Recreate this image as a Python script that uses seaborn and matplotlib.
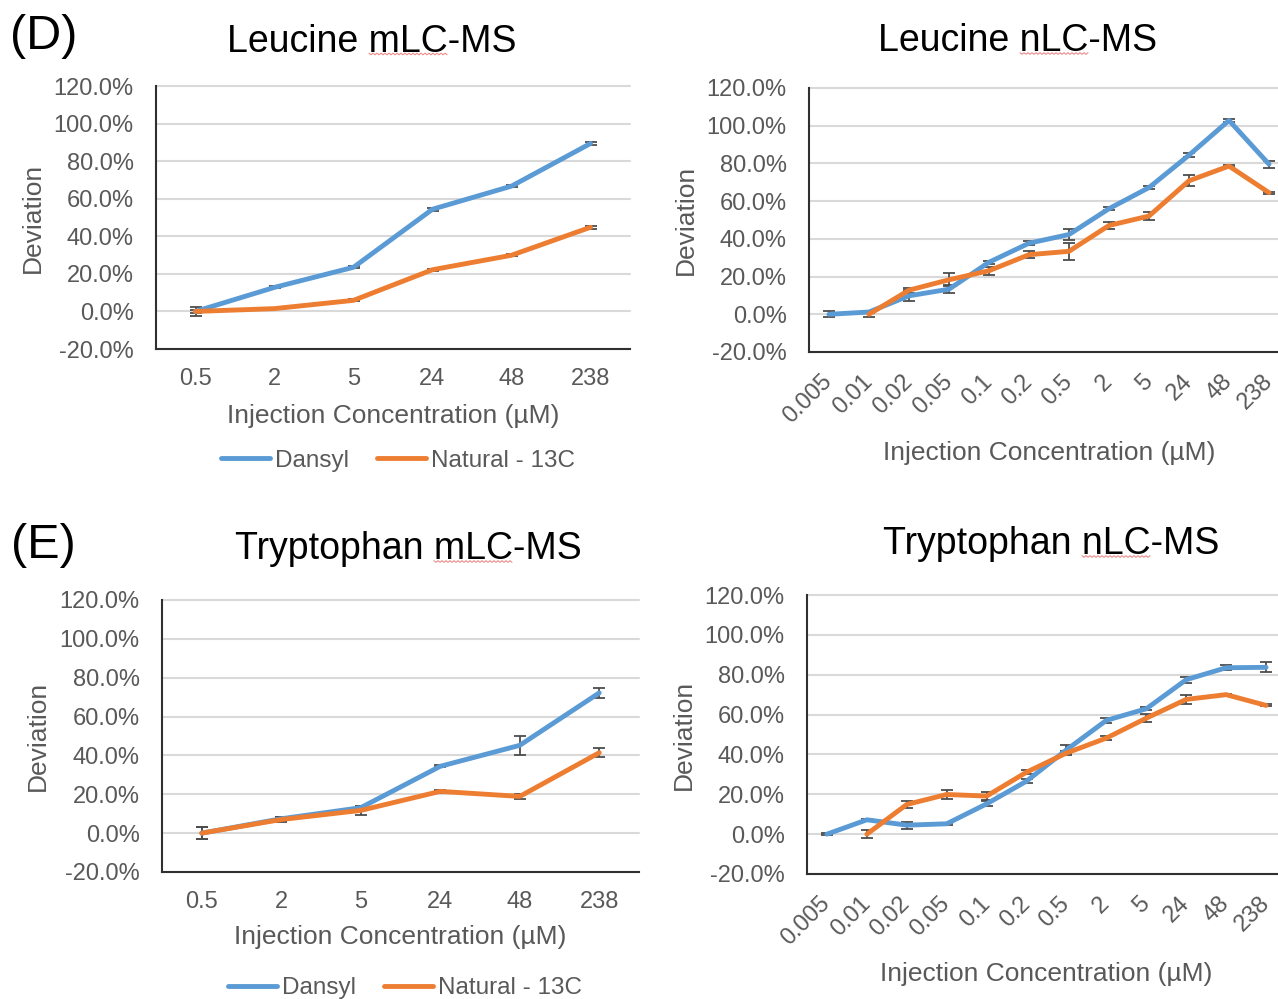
import numpy as np
import pandas as pd
import matplotlib
matplotlib.use("Agg")
import matplotlib.pyplot as plt
from matplotlib.lines import Line2D
import seaborn as sns

# ---------------------------------------------------------------- data
mlc_conc = ["0.5", "2", "5", "24", "48", "238"]
nlc_conc = ["0.005", "0.01", "0.02", "0.05", "0.1", "0.2",
            "0.5", "2", "5", "24", "48", "238"]
series_names = ["Dansyl", "Natural - 13C"]
y_ticks = [-20, 0, 20, 40, 60, 80, 100, 120]

nan = np.nan

leu_mlc_dansyl = [0.0, 12.8, 23.5, 54.4, 66.7, 89.4]
leu_mlc_dansyl_err = [2.4, 0.5, 0.6, 0.8, 0.6, 0.8]
leu_mlc_natural = [0.0, 1.5, 5.9, 22.2, 29.9, 44.8]
leu_mlc_natural_err = [0.8, 0.3, 0.5, 0.5, 0.5, 0.8]

leu_nlc_dansyl = [0.0, 1.2, 9.8, 13.3, 27.6, 37.7, 42.3, 56.0, 67.2, 84.4, 102.8, 79.6]
leu_nlc_dansyl_err = [1.6, 0.5, 3.0, 2.1, 0.8, 1.2, 3.0, 0.8, 0.8, 1.0, 1.0, 1.8]
leu_nlc_natural = [nan, 0.0, 12.8, 18.3, 23.1, 31.6, 33.4, 47.1, 52.1, 70.8, 78.6, 64.5]
leu_nlc_natural_err = [nan, 1.6, 1.4, 3.4, 2.1, 1.8, 4.4, 2.0, 2.3, 2.8, 0.5, 0.5]

trp_mlc_dansyl = [0.0, 7.4, 13.1, 34.4, 45.2, 72.2]
trp_mlc_dansyl_err = [3.2, 1.0, 1.0, 0.6, 4.8, 2.6]
trp_mlc_natural = [0.0, 7.0, 11.7, 21.5, 18.9, 41.4]
trp_mlc_natural_err = [3.2, 1.4, 2.2, 0.6, 1.2, 2.3]

trp_nlc_dansyl = [0.0, 7.2, 4.5, 5.2, 15.2, 26.6, 42.3, 57.1, 62.9, 77.5, 83.5, 83.7]
trp_nlc_dansyl_err = [0.5, 0.5, 1.7, 0.5, 1.3, 1.0, 2.2, 1.3, 0.8, 1.5, 1.3, 2.5]
trp_nlc_natural = [nan, 0.0, 14.9, 19.9, 19.1, 31.1, 40.7, 48.2, 58.2, 67.6, 70.0, 64.6]
trp_nlc_natural_err = [nan, 2.0, 1.7, 2.2, 2.0, 1.0, 1.0, 0.8, 2.0, 2.3, 0.5, 0.5]

# ---------------------------------------------------------------- style
sns.set_theme(style="white")
plt.rcParams["font.family"] = ["Liberation Sans", "DejaVu Sans"]

BLUE = "#5B9BD5"
ORANGE = "#ED7D31"
GREY_TEXT = "#595959"
GRID = "#D9D9D9"
SPINE = "#303030"
LW = 3.5

W, H = 1278, 999
fig = plt.figure(figsize=(W / 100, H / 100), dpi=100)
fig.patch.set_facecolor("white")


def px_axes(left, right, top, bottom):
    return fig.add_axes([left / W, 1 - bottom / H, (right - left) / W, (bottom - top) / H])


def panel(ax, conc, dansyl, dansyl_err, natural, natural_err, rotated,
          xlab_y, ylab_x):
    pos = np.arange(len(conc))
    df = pd.DataFrame({
        "pos": np.concatenate([pos, pos]),
        "deviation": np.concatenate([dansyl, natural]),
        "series": [series_names[0]] * len(conc) + [series_names[1]] * len(conc),
    })
    for vals, errs in ((dansyl, dansyl_err), (natural, natural_err)):
        ax.errorbar(pos, vals, yerr=errs, fmt="none", ecolor="#4D4D4D",
                    elinewidth=1.3, capsize=4.5, capthick=1.3, zorder=2)
    sns.lineplot(data=df, x="pos", y="deviation", hue="series",
                 palette=[BLUE, ORANGE], linewidth=LW, sort=False,
                 legend=False, ax=ax, zorder=3,
                 solid_capstyle="round", solid_joinstyle="round")

    ax.set_xlim(-0.5, len(conc) - 0.5)
    ax.set_ylim(-20, 120)
    ax.set_yticks(y_ticks, [f"{v:.1f}%" for v in y_ticks])
    ax.yaxis.grid(True, color=GRID, linewidth=1.5)
    ax.xaxis.grid(False)
    for gl in ax.get_ygridlines():
        gl.set_clip_on(False)
    for side in ("top", "right"):
        ax.spines[side].set_visible(False)
    for side in ("left", "bottom"):
        ax.spines[side].set_color(SPINE)
        ax.spines[side].set_linewidth(1.5)
        ax.spines[side].set_zorder(4)
    ax.tick_params(axis="both", length=0, labelsize=17, labelcolor=GREY_TEXT)
    ax.tick_params(axis="y", pad=16)
    if rotated:
        ax.set_xticks(pos, conc, rotation=45, ha="right", va="center",
                      rotation_mode="anchor")
        ax.tick_params(axis="x", pad=19)
    else:
        ax.set_xticks(pos, conc)
        ax.tick_params(axis="x", pad=13.5)

    ax.set_xlabel("Injection Concentration (\u00b5M)", fontsize=19, color=GREY_TEXT)
    ax.set_ylabel("Deviation", fontsize=19, color=GREY_TEXT)
    ax.xaxis.set_label_coords(0.5, xlab_y)
    ax.xaxis.label.set_va("center")
    ax.yaxis.set_label_coords(ylab_x, 0.5)
    ax.yaxis.label.set_va("center")


ax_tl = px_axes(156, 630, 86, 349)
panel(ax_tl, mlc_conc, leu_mlc_dansyl, leu_mlc_dansyl_err,
      leu_mlc_natural, leu_mlc_natural_err, False, -0.253, -0.259)

ax_tr = px_axes(809, 1289, 88, 352)
panel(ax_tr, nlc_conc, leu_nlc_dansyl, leu_nlc_dansyl_err,
      leu_nlc_natural, leu_nlc_natural_err, True, -0.381, -0.256)

ax_bl = px_axes(162, 639, 600, 872)
panel(ax_bl, mlc_conc, trp_mlc_dansyl, trp_mlc_dansyl_err,
      trp_mlc_natural, trp_mlc_natural_err, False, -0.24, -0.26)

ax_br = px_axes(807, 1286, 595, 874)
panel(ax_br, nlc_conc, trp_nlc_dansyl, trp_nlc_dansyl_err,
      trp_nlc_natural, trp_nlc_natural_err, True, -0.36, -0.257)


# ---------------------------------------------------------------- titles
def ftext(x, y, s, **kw):
    fig.text(x / W, 1 - y / H, s, **kw)


ftext(10, 49, "(D)", fontsize=35, color="black", ha="left", va="baseline")
ftext(11, 558, "(E)", fontsize=35, color="black", ha="left", va="baseline")
ftext(372, 51.5, "Leucine mLC-MS", fontsize=27, color="black", ha="center", va="baseline")
ftext(1018, 51, "Leucine nLC-MS", fontsize=27, color="black", ha="center", va="baseline")
ftext(408, 559, "Tryptophan mLC-MS", fontsize=27, color="black", ha="center", va="baseline")
ftext(1051, 554, "Tryptophan nLC-MS", fontsize=27, color="black", ha="center", va="baseline")


# spell-check squiggles under the instrument abbreviations
def squiggle(x0, x1, y):
    xs = np.arange(x0, x1 + 0.1, 2.0)
    ys = y + np.where(np.arange(len(xs)) % 2 == 0, -0.8, 0.8)
    fig.add_artist(Line2D(xs / W, 1 - ys / H, transform=fig.transFigure,
                          color="#EE8C8C", linewidth=0.8))


squiggle(369, 447, 54)
squiggle(1020, 1088, 53.5)
squiggle(434, 512, 561.5)
squiggle(1082, 1150, 556.5)

# ---------------------------------------------------------------- legends
handles = [Line2D([], [], color=BLUE, linewidth=LW, solid_capstyle="round"),
           Line2D([], [], color=ORANGE, linewidth=LW, solid_capstyle="round")]
for cx, cy in ((398, 460.5), (405, 988)):
    fig.legend(handles, series_names, loc="center",
               bbox_to_anchor=(cx / W, 1 - cy / H), ncol=2, frameon=False,
               fontsize=17.5, labelcolor=GREY_TEXT, handlelength=2.0,
               handletextpad=0.22, columnspacing=1.15, borderpad=0.2)

fig.savefig("out.png", dpi=100)
